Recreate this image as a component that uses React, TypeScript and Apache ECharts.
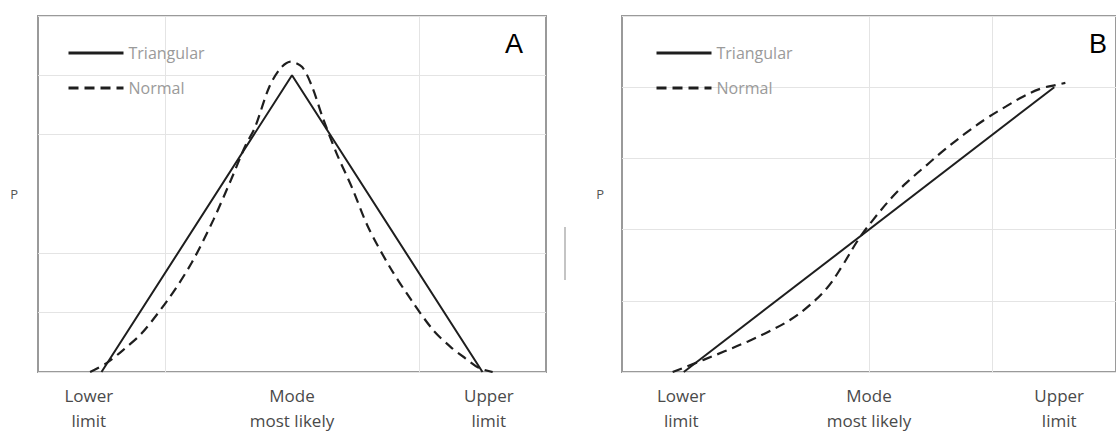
import React, { useEffect, useRef } from "react";
import * as echarts from "echarts";

// Panel A: probability density (x in category units, Lower=0.5, Mode=2, Upper=3.5)
const triangularAX = [0.5, 2, 3.5];
const triangularAY = [0, 5, 0];
const normalAX = [0.41, 0.54, 0.67, 0.82, 1.04, 1.21, 1.38, 1.52, 1.63, 1.71, 1.82, 1.91, 1.99, 2.08, 2.16, 2.24, 2.35, 2.47, 2.6, 2.77, 2.94, 3.11, 3.25, 3.36, 3.47, 3.58];
const normalAY = [0, 0.15, 0.37, 0.66, 1.27, 1.84, 2.56, 3.24, 3.8, 4.13, 4.8, 5.12, 5.23, 5.14, 4.8, 4.3, 3.69, 3.12, 2.44, 1.77, 1.21, 0.71, 0.42, 0.24, 0.07, 0];

// Panel B
const triangularBX = [0.5, 3.5];
const triangularBY = [0, 4];
const normalBX = [0.41, 0.66, 0.83, 1.02, 1.19, 1.36, 1.52, 1.66, 1.78, 1.91, 2.03, 2.19, 2.33, 2.47, 2.61, 2.78, 2.95, 3.11, 3.25, 3.39, 3.51, 3.59];
const normalBY = [0, 0.17, 0.29, 0.43, 0.57, 0.73, 0.94, 1.18, 1.48, 1.85, 2.13, 2.46, 2.7, 2.91, 3.12, 3.35, 3.56, 3.73, 3.87, 3.98, 4.03, 4.06];

// Tick labels
const tickLabels = ["Lower\nlimit", "Mode\nmost likely", "Upper\nlimit"];
const tickPosA = [0.4, 2, 3.55];
const tickPosB = [0.48, 2, 3.54];
const seriesNames = ["Triangular", "Normal"];
const panelLetters = ["A", "B"];

const zip = (xs: number[], ys: number[]) => xs.map((x, i) => [x, ys[i]]);

const GRID = "#e4e4e4";
const NONE = "rgba(0,0,0,0)";
const LINE = "#1e1e1e";

export default function App() {
  const ref = useRef<HTMLDivElement>(null);
  useEffect(() => {
    document.body.style.margin = "0";
    const chart = echarts.init(ref.current!, null, { renderer: "svg" });
    const font = "Open Sans";
    const xAxis = (gridIndex: number, pos: number[], lineColors: string[]) => ({
      type: "value",
      gridIndex,
      min: 0,
      max: 4,
      interval: 1,
      axisLine: { show: false },
      axisTick: { show: false },
      splitLine: { show: true, lineStyle: { color: lineColors, width: 1 } },
      axisLabel: {
        customValues: pos,
        formatter: (v: number) => {
          const i = pos.findIndex((p) => Math.abs(p - v) < 1e-6);
          return i >= 0 ? tickLabels[i] : "";
        },
        color: "#4a4a4a",
        fontSize: 17,
        fontFamily: font,
        lineHeight: 25,
        margin: 11,
      },
    });
    const yAxis = (gridIndex: number, max: number, lineColors: string[], gap: number) => ({
      type: "value",
      gridIndex,
      min: 0,
      max,
      interval: 1,
      name: "P",
      nameLocation: "middle",
      nameRotate: 0,
      nameGap: gap,
      nameTextStyle: { color: "#555", fontSize: 13, fontFamily: font },
      axisLine: { show: false },
      axisTick: { show: false },
      axisLabel: { show: false },
      splitLine: { show: true, lineStyle: { color: lineColors, width: 1 } },
    });
    const solid = { color: LINE, width: 2, type: "solid" };
    const dashed = { color: LINE, width: 2.2, type: [10, 6] };
    const mk = (name: string, idx: number, data: number[][], ls: any, smooth: number | boolean) => ({
      name,
      type: "line",
      xAxisIndex: idx,
      yAxisIndex: idx,
      data,
      showSymbol: false,
      symbol: "none",
      smooth,
      lineStyle: ls,
      itemStyle: { color: LINE },
    });
    const legend = (left: number) => ({
      data: seriesNames,
      orient: "vertical",
      left,
      top: 40,
      itemWidth: 55,
      itemHeight: 14,
      itemGap: 19,
      selectedMode: false,
      itemStyle: { color: NONE, borderWidth: 0, opacity: 0 },
      lineStyle: { width: 3 },
      textStyle: { color: "#9a9a9a", fontSize: 16, fontFamily: font },
    });
    chart.setOption({
      animation: false,
      backgroundColor: "#fff",
      title: [
        { text: panelLetters[0], left: 500, top: 25, textStyle: { fontSize: 27, fontWeight: "normal", color: "#000", fontFamily: "Liberation Sans" } },
        { text: panelLetters[1], left: 1084, top: 25, textStyle: { fontSize: 27, fontWeight: "normal", color: "#000", fontFamily: "Liberation Sans" } },
      ],
      legend: [legend(62), legend(650)],
      grid: [
        { left: 38, top: 16, width: 508, height: 356, show: true, borderColor: "#9a9a9a", borderWidth: 2, backgroundColor: "#fff" },
        { left: 622, top: 16, width: 512, height: 356, show: true, borderColor: "#9a9a9a", borderWidth: 2, backgroundColor: "#fff" },
      ],
      xAxis: [
        xAxis(0, tickPosA, [NONE, GRID, NONE, GRID, NONE]),
        xAxis(1, tickPosB, [NONE, NONE, GRID, GRID, NONE]),
      ],
      yAxis: [
        yAxis(0, 6, [GRID, GRID, GRID, NONE, GRID, GRID, GRID], 20),
        yAxis(1, 5, [GRID, GRID, GRID, GRID, GRID, GRID], 18),
      ],
      series: [
        mk(seriesNames[0], 0, zip(triangularAX, triangularAY), solid, false),
        mk(seriesNames[1], 0, zip(normalAX, normalAY), dashed, 0.3),
        mk(seriesNames[0], 1, zip(triangularBX, triangularBY), solid, false),
        mk(seriesNames[1], 1, zip(normalBX, normalBY), dashed, 0.4),
      ],
      graphic: [
        { type: "rect", shape: { x: 564, y: 227, width: 2, height: 53 }, style: { fill: "#c4c4c4" } },
      ],
    });
    return () => chart.dispose();
  }, []);
  return <div ref={ref} style={{ width: 1116, height: 433 }} />;
}
